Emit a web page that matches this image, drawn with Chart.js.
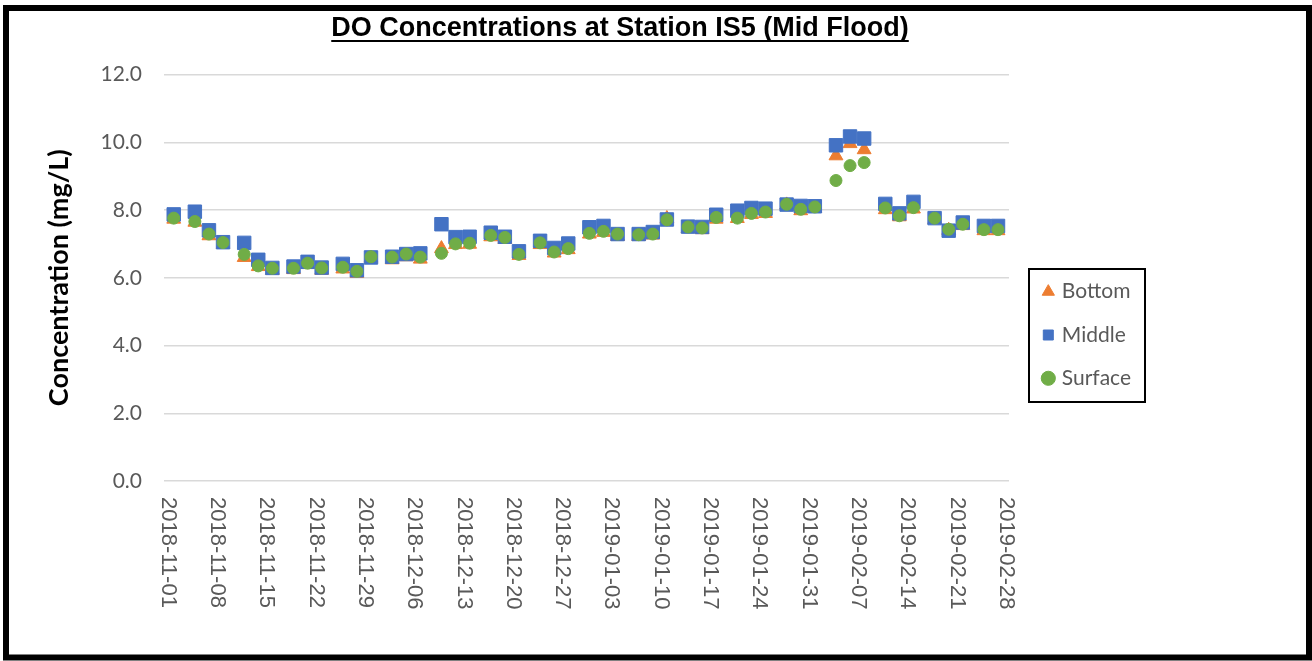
<!DOCTYPE html>
<html>
<head>
<meta charset="utf-8">
<script src="https://cdn.jsdelivr.net/npm/chart.js@4.4.1/dist/chart.umd.min.js"></script>
<style>
html, body { margin: 0; padding: 0; background: #ffffff; }
canvas { display: block; }
</style>
</head>
<body>
<canvas id="c" width="1312" height="661"></canvas>
<script>
// ---------- data ----------
const TITLE = 'DO Concentrations at Station IS5 (Mid Flood)';
const Y_TITLE = 'Concentration (mg/L)';
const SERIES_NAMES = ['Bottom', 'Middle', 'Surface'];

const DATES = [
  '2018-11-02','2018-11-05','2018-11-07','2018-11-09','2018-11-12','2018-11-14','2018-11-16',
  '2018-11-19','2018-11-21','2018-11-23','2018-11-26','2018-11-28','2018-11-30',
  '2018-12-03','2018-12-05','2018-12-07','2018-12-10','2018-12-12','2018-12-14',
  '2018-12-17','2018-12-19','2018-12-21','2018-12-24','2018-12-26','2018-12-28','2018-12-31',
  '2019-01-02','2019-01-04','2019-01-07','2019-01-09','2019-01-11','2019-01-14','2019-01-16',
  '2019-01-18','2019-01-21','2019-01-23','2019-01-25','2019-01-28','2019-01-30',
  '2019-02-01','2019-02-04','2019-02-06','2019-02-08','2019-02-11','2019-02-13','2019-02-15',
  '2019-02-18','2019-02-20','2019-02-22','2019-02-25','2019-02-27'
];

const BOTTOM = [
  7.73, 7.64, 7.24, 6.99, 6.60, 6.33, 6.22,
  6.24, 6.39, 6.22, 6.26, 6.13, 6.58,
  6.53, 6.62, 6.55, 6.86, 6.98, 6.99,
  7.21, 7.13, 6.66, 6.98, 6.73, 6.83, 7.29,
  7.34, 7.22, 7.22, 7.26, 7.75, 7.45, 7.42,
  7.73, 7.75, 7.87, 7.90, 8.15, 7.98,
  8.05, 9.60, 9.96, 9.78, 8.01, 7.80, 8.03,
  7.72, 7.40, 7.54, 7.39, 7.39
];

const MIDDLE = [
  7.87, 7.95, 7.40, 7.05, 7.03, 6.53, 6.29,
  6.33, 6.47, 6.30, 6.41, 6.22, 6.60,
  6.62, 6.70, 6.72, 7.58, 7.20, 7.21,
  7.33, 7.21, 6.78, 7.09, 6.88, 7.01, 7.49,
  7.53, 7.29, 7.29, 7.35, 7.72, 7.51, 7.50,
  7.86, 7.98, 8.06, 8.04, 8.16, 8.12,
  8.11, 9.91, 10.17, 10.11, 8.18, 7.90, 8.24,
  7.76, 7.39, 7.63, 7.53, 7.53
];

const SURFACE = [
  7.76, 7.66, 7.29, 7.04, 6.69, 6.35, 6.28,
  6.28, 6.43, 6.29, 6.31, 6.19, 6.62,
  6.61, 6.70, 6.61, 6.72, 7.00, 7.02,
  7.25, 7.19, 6.69, 7.03, 6.76, 6.86, 7.31,
  7.37, 7.29, 7.27, 7.29, 7.71, 7.50, 7.47,
  7.78, 7.76, 7.90, 7.94, 8.17, 8.02,
  8.09, 8.87, 9.31, 9.40, 8.06, 7.83, 8.07,
  7.76, 7.43, 7.58, 7.42, 7.42
];

const X_TICK_LABELS = [
  '2018-11-01','2018-11-08','2018-11-15','2018-11-22','2018-11-29','2018-12-06',
  '2018-12-13','2018-12-20','2018-12-27','2019-01-03','2019-01-10','2019-01-17',
  '2019-01-24','2019-01-31','2019-02-07','2019-02-14','2019-02-21','2019-02-28'
];
const Y_MIN = 0, Y_MAX = 12, Y_STEP = 2;
const AXIS_START = '2018-11-01';

// ---------- helpers ----------
function dayOf(s) {
  const p = s.split('-').map(Number);
  const q = AXIS_START.split('-').map(Number);
  return (Date.UTC(p[0], p[1] - 1, p[2]) - Date.UTC(q[0], q[1] - 1, q[2])) / 86400000;
}
function toPoints(values) {
  return DATES.map((d, i) => ({ x: dayOf(d), y: values[i] }));
}
const X_MIN = dayOf(X_TICK_LABELS[0]) - 0.38;
const X_MAX = dayOf(X_TICK_LABELS[X_TICK_LABELS.length - 1]) + 0.56;

const COLORS = { Bottom: '#ED7D31', Middle: '#4472C4', Surface: '#70AD47' };

// ---------- decoration plugin ----------
const decor = {
  id: 'decor',
  afterLayout(chart) {
    const lg = chart.legend;
    if (!lg) return;
    const w = lg.width, h = lg.height;
    lg.left = 1023; lg.right = lg.left + w;
    lg.top = 258.9; lg.bottom = lg.top + h;
  },
  afterDraw(chart) {
    const ctx = chart.ctx;
    const xs = chart.scales.x;
    const area = chart.chartArea;
    ctx.save();
    // rotated x tick labels (read top to bottom)
    ctx.font = '22px "Liberation Sans", Arial, sans-serif';
    ctx.fillStyle = '#595959';
    ctx.textAlign = 'left';
    ctx.textBaseline = 'middle';
    X_TICK_LABELS.forEach(l => {
      const px = xs.getPixelForValue(dayOf(l));
      ctx.save();
      ctx.translate(px + 1, area.bottom + 16);
      ctx.rotate(Math.PI / 2);
      ctx.fillText(l, 0, 0);
      ctx.restore();
    });
    // title with underline
    ctx.font = 'bold 27px "Liberation Sans", Arial, sans-serif';
    ctx.fillStyle = '#000000';
    ctx.textAlign = 'center';
    ctx.textBaseline = 'alphabetic';
    ctx.fillText(TITLE, 620, 36);
    const tw = ctx.measureText(TITLE).width;
    ctx.fillRect(620 - tw / 2, 40, tw, 2);
    // legend frame
    ctx.strokeStyle = '#000000';
    ctx.lineWidth = 2;
    ctx.strokeRect(1029, 269, 116, 133);
    // outer frame
    ctx.lineWidth = 6;
    ctx.strokeRect(6, 8, 1303, 649.5);
    ctx.restore();
  }
};

// ---------- chart ----------
const ctx = document.getElementById('c').getContext('2d');
new Chart(ctx, {
  type: 'scatter',
  data: {
    datasets: [
      {
        label: SERIES_NAMES[0], data: toPoints(BOTTOM), order: 3,
        pointStyle: 'triangle', pointRadius: 8, pointHoverRadius: 8,
        backgroundColor: COLORS.Bottom, borderColor: COLORS.Bottom, borderWidth: 1
      },
      {
        label: SERIES_NAMES[1], data: toPoints(MIDDLE), order: 2,
        pointStyle: 'rect', pointRadius: 9.5, pointHoverRadius: 9.5,
        backgroundColor: COLORS.Middle, borderColor: COLORS.Middle, borderWidth: 1
      },
      {
        label: SERIES_NAMES[2], data: toPoints(SURFACE), order: 1,
        pointStyle: 'circle', pointRadius: 6, pointHoverRadius: 6,
        backgroundColor: COLORS.Surface, borderColor: COLORS.Surface, borderWidth: 1
      }
    ]
  },
  options: {
    responsive: false,
    animation: false,
    devicePixelRatio: 1,
    layout: { padding: { left: 20, top: 74.5, right: 303, bottom: 0 } },
    plugins: {
      title: { display: false },
      tooltip: { enabled: false },
      legend: {
        display: true,
        position: 'chartArea',
        align: 'start',
        labels: {
          usePointStyle: true,
          boxWidth: 6,
          boxHeight: 10,
          padding: 22.3,
          color: '#595959',
          font: { family: 'Lato', size: 21 },
          sort: (a, b) => a.datasetIndex - b.datasetIndex
        }
      }
    },
    scales: {
      x: {
        type: 'linear',
        min: X_MIN,
        max: X_MAX,
        grid: { display: false },
        border: { display: false },
        ticks: { display: false },
        afterFit: (s) => { s.height = 180; }
      },
      y: {
        type: 'linear',
        min: Y_MIN,
        max: Y_MAX,
        ticks: {
          stepSize: Y_STEP,
          padding: 22,
          color: '#595959',
          font: { family: 'Lato', size: 21 },
          callback: (v) => Number(v).toFixed(1)
        },
        grid: { color: '#d9d9d9', lineWidth: 1.5, drawTicks: false },
        border: { display: false },
        title: {
          display: true,
          text: Y_TITLE,
          color: '#000000',
          font: { family: 'Lato', size: 27, weight: 'bold' },
          padding: { top: 22.8, bottom: 0 }
        },
        afterFit: (s) => { s.width = 144; }
      }
    }
  },
  plugins: [decor]
});
</script>
</body>
</html>
